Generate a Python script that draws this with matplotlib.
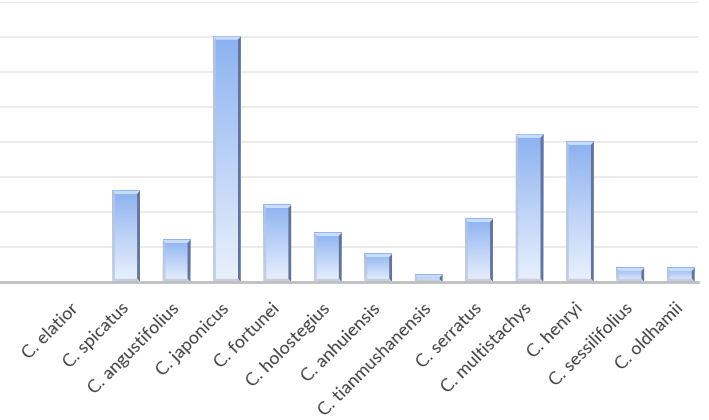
import matplotlib
matplotlib.use("Agg")
import matplotlib.pyplot as plt
import numpy as np
from matplotlib.colors import LinearSegmentedColormap
from matplotlib.patches import Polygon

species = ["C. elatior", "C. spicatus", "C. angustifolius", "C. japonicus",
           "C. fortunei", "C. holostegius", "C. anhuiensis",
           "C. tianmushanensis", "C. serratus", "C. multistachys",
           "C. henryi", "C. sessilifolius", "C. oldhamii"]
values = [0, 2.6, 1.2, 7.0, 2.2, 1.4, 0.8, 0.2, 1.8, 4.2, 4.0, 0.4, 0.4]

fig = plt.figure(figsize=(7.09, 4.2), dpi=100)
ax = fig.add_axes([0.0, 138 / 420, 0.985, 280.5 / 420])

x = np.arange(len(species))
bars = ax.bar(x, values, width=0.55, color="none", edgecolor="none", zorder=2)

grad = LinearSegmentedColormap.from_list("bar", ["#eaf1fd", "#bcd2f7", "#8bb1f0"])
g = np.linspace(0, 1, 256).reshape(-1, 1)

for b in bars:
    x0, y0 = b.get_x(), b.get_y()
    w, h = b.get_width(), b.get_height()
    if h <= 0:
        continue
    x1, y1 = x0 + w, y0 + h
    ax.imshow(g, cmap=grad, origin="lower", aspect="auto",
              extent=(x0, x1, y0, y1), zorder=2, interpolation="bilinear")
    bx, by = 0.055, min(0.09, h / 3)
    # bevel: top, left, right, bottom strips
    ax.add_patch(Polygon([(x0, y1), (x1, y1), (x1 - bx, y1 - by), (x0 + bx, y1 - by)],
                         closed=True, fc="#cadcfb", ec="none", zorder=3))
    ax.add_patch(Polygon([(x0, y0), (x0, y1), (x0 + bx, y1 - by), (x0 + bx, y0 + by)],
                         closed=True, fc="#b9c6dc", ec="none", alpha=0.8, zorder=3))
    ax.add_patch(Polygon([(x1, y0), (x1, y1), (x1 - bx, y1 - by), (x1 - bx, y0 + by)],
                         closed=True, fc="#63739a", ec="none", zorder=3))
    ax.add_patch(Polygon([(x0, y0), (x1, y0), (x1 - bx, y0 + by), (x0 + bx, y0 + by)],
                         closed=True, fc="#c4cedd", ec="none", zorder=3))

ax.set_xlim(-1.5, 12.35)
ax.set_ylim(0, 8.0)
ax.set_yticks(np.arange(1, 9))
ax.yaxis.grid(True, color="#ebebeb", lw=1.5, zorder=0)
ax.set_axisbelow(True)
ax.tick_params(axis="y", left=False, labelleft=False)
for s in ["top", "right", "left"]:
    ax.spines[s].set_visible(False)
ax.spines["bottom"].set_color("#bfbfbf")
ax.spines["bottom"].set_linewidth(2)
ax.spines["bottom"].set_zorder(4)

ax.set_xticks(x)
ax.set_xticklabels(species, rotation=45, ha="right", va="center",
                   rotation_mode="anchor", fontsize=13, color="#404040",
                   family="Lato")
ax.tick_params(axis="x", length=0, pad=17)

fig.savefig("out.png", dpi=100)
